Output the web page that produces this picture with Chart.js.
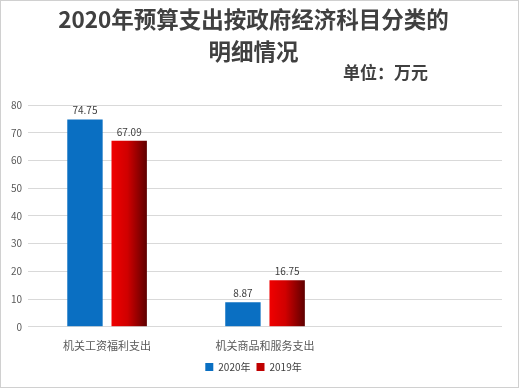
<!DOCTYPE html>
<html>
<head>
<meta charset="utf-8">
<script src="https://cdn.jsdelivr.net/npm/chart.js@4"></script>
<style>
  html, body { margin: 0; padding: 0; background: #fff; }
  #wrap { position: relative; width: 519px; height: 388px; box-sizing: border-box; border: 1px solid #d0d0d0; }
  canvas { display: block; }
</style>
</head>
<body>
<div id="wrap"><canvas id="budgetChart" width="517" height="386"></canvas></div>
<script>
// 分类（第三个为空分类，原图中占位）
const categories = ['机关工资福利支出', '机关商品和服务支出', ''];
const values2020 = [74.75, 8.87, null];
const values2019 = [67.09, 16.75, null];
const seriesNames = ['2020年', '2019年'];
const yTicks = [0, 10, 20, 30, 40, 50, 60, 70, 80];

const fontFamily = '"Noto Sans CJK SC", "Noto Sans", sans-serif';
const catPct = 0.56;
const barPct = 0.8;

// 红色柱子左亮右暗的渐变（用x轴位置计算柱子左右边）
function redGradient(context) {
    const chart = context.chart;
    const xScale = chart.scales.x;
    if (!xScale || !xScale.width || context.dataIndex === undefined) return '#c00000';
    const catW = xScale.width / categories.length;
    const slot = catW * catPct / 2;
    const center = xScale.getPixelForValue(context.dataIndex) + slot / 2;
    const half = slot * barPct / 2;
    const g = chart.ctx.createLinearGradient(center - half, 0, center + half, 0);
    g.addColorStop(0, '#f00000');
    g.addColorStop(0.45, '#d00000');
    g.addColorStop(1, '#5e0000');
    return g;
}

// 柱顶数值标签
const valueLabels = {
    id: 'valueLabels',
    afterDatasetsDraw(chart) {
        const ctx = chart.ctx;
        ctx.save();
        ctx.font = '10px ' + fontFamily;
        ctx.fillStyle = '#404040';
        ctx.textAlign = 'center';
        ctx.textBaseline = 'bottom';
        chart.data.datasets.forEach((ds, i) => {
            chart.getDatasetMeta(i).data.forEach((bar, j) => {
                const v = ds.data[j];
                if (v === null || v === undefined) return;
                ctx.fillText(v.toFixed(2), bar.x, bar.y - 4);
            });
        });
        ctx.restore();
    }
};

// 单位文字
const unitLabel = {
    id: 'unitLabel',
    afterDraw(chart) {
        const ctx = chart.ctx;
        ctx.save();
        ctx.font = 'bold 17px ' + fontFamily;
        ctx.fillStyle = '#404040';
        ctx.textAlign = 'right';
        ctx.textBaseline = 'middle';
        ctx.fillText('单位：万元', 427, 72);
        ctx.restore();
    }
};

new Chart(document.getElementById('budgetChart'), {
    type: 'bar',
    data: {
        labels: categories,
        datasets: [{
            label: seriesNames[0],
            data: values2020,
            backgroundColor: '#0a6fc2',
            categoryPercentage: catPct,
            barPercentage: barPct
        }, {
            label: seriesNames[1],
            data: values2019,
            backgroundColor: redGradient,
            categoryPercentage: catPct,
            barPercentage: barPct
        }]
    },
    options: {
        responsive: false,
        animation: false,
        layout: { padding: { left: 4, right: 16, top: 3, bottom: 5 } },
        scales: {
            y: {
                min: 0,
                max: 80,
                afterBuildTicks: axis => { axis.ticks = yTicks.map(v => ({ value: v })); },
                ticks: { color: '#595959', font: { size: 10, family: fontFamily }, padding: 6 },
                grid: { color: '#d9d9d9', drawTicks: false },
                border: { display: false }
            },
            x: {
                ticks: { color: '#595959', font: { size: 11, family: fontFamily }, padding: 4, maxRotation: 0 },
                grid: { display: false },
                border: { display: false }
            }
        },
        plugins: {
            title: {
                display: true,
                text: ['2020年预算支出按政府经济科目分类的', '明细情况'],
                color: '#404040',
                font: { size: 22.5, weight: 'bold', family: fontFamily, lineHeight: 1.4 },
                padding: { top: 0, bottom: 38 }
            },
            legend: {
                position: 'bottom',
                labels: {
                    color: '#404040',
                    font: { size: 10, family: fontFamily },
                    boxWidth: 8,
                    boxHeight: 8,
                    padding: 6,
                    generateLabels: chart => seriesNames.map((name, i) => ({
                        text: name,
                        fillStyle: i === 0 ? '#0a6fc2' : '#c00000',
                        strokeStyle: 'transparent',
                        lineWidth: 0,
                        fontColor: '#404040',
                        datasetIndex: i
                    }))
                }
            },
            tooltip: { enabled: false }
        }
    },
    plugins: [valueLabels, unitLabel]
});
</script>
</body>
</html>
